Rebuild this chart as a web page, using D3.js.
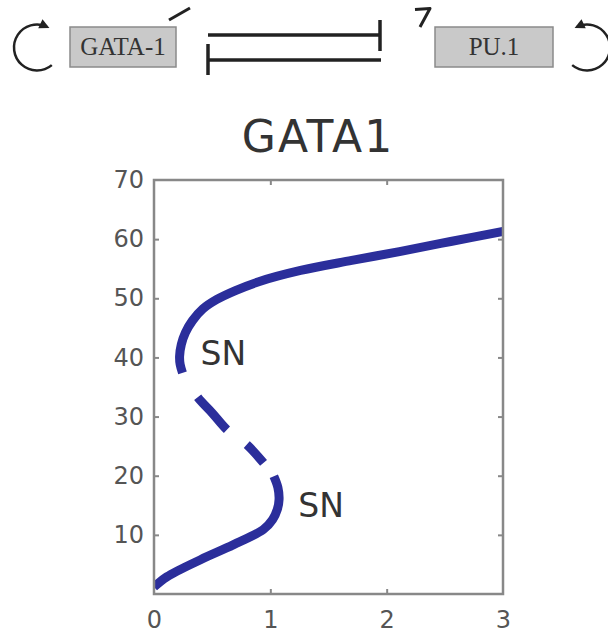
<!DOCTYPE html>
<html>
<head>
<meta charset="utf-8">
<script src="https://cdn.jsdelivr.net/npm/d3@7"></script>
<style>
  body { margin: 0; background: #fff; }
  svg { display: block; }
  .tick-label { font-family: "DejaVu Sans", sans-serif; font-size: 24px; fill: #555; }
  .sn { font-family: "DejaVu Sans", sans-serif; font-size: 33px; fill: #333; }
</style>
</head>
<body>
<div id="plot"></div>
<script>
// bifurcation branches of GATA1 (x = parameter, y = GATA1 level)
const upperX = [0.245, 0.225, 0.22, 0.235, 0.27, 0.33, 0.42, 0.54, 0.70, 0.90, 1.26, 1.70, 2.11, 2.55, 3.0]
const upperY = [37.4, 38.8, 40.2, 42.2, 44.2, 46.2, 48.2, 49.8, 51.3, 52.8, 54.7, 56.4, 57.9, 59.6, 61.3]
const unstableX = [0.245, 0.37, 0.50, 0.625, 0.71, 0.80, 0.94, 1.03]
const unstableY = [37.4, 33.4, 30.6, 27.8, 26.5, 25.2, 22.2, 19.9]
const lowerX = [0.0, 0.11, 0.40, 0.68, 0.94, 1.02, 1.06, 1.075, 1.065, 1.03]
const lowerY = [1.2, 2.9, 5.8, 8.3, 10.9, 12.6, 14.3, 16.0, 18.0, 19.9]
const xTicks = [0, 1, 2, 3]
const yTicks = [10, 20, 30, 40, 50, 60, 70]
const labels = ['SN', 'SN']
const labelX = [0.40, 1.24]
const labelY = [38.7, 13.0]

const W = 608, H = 635
const margin = ({top: 180, right: 105, bottom: 41, left: 154})
const blue = '#2b2e9b'
const ink = '#222'
const deg = Math.PI / 180

const svg = d3.select('#plot').append('svg')
  .attr('width', W)
  .attr('height', H)

//TOP DIAGRAM
const diag = svg.append('g')
// self-activation loops (d3 angles: 0 = up, clockwise)
const loop = (cx, cy, r, a0, a1) => {
  const arc = d3.arc()
    .innerRadius(r).outerRadius(r)
    .startAngle(a0 * deg).endAngle(a1 * deg)
  diag.append('path')
    .attr('d', arc())
    .attr('transform', `translate(${cx},${cy})`)
    .attr('fill', 'none')
    .attr('stroke', ink)
    .attr('stroke-width', 2.5)
  const a = a1 * deg
  const ex = cx + r * Math.sin(a), ey = cy - r * Math.cos(a)
  const s = a1 > a0 ? 1 : -1
  const dir = Math.atan2(s * Math.sin(a), s * Math.cos(a)) / deg
  diag.append('path')
    .attr('d', 'M3,0 L-7,-5 L-7,5 Z')
    .attr('fill', ink)
    .attr('transform', `translate(${ex},${ey}) rotate(${dir})`)
}
loop(37, 47.5, 23, 140, 385)
loop(587, 47.5, 23, 220, -25)

// gene boxes
const box = (x, y, w, h, txt) => {
  diag.append('rect')
    .attr('x', x).attr('y', y).attr('width', w).attr('height', h)
    .attr('fill', '#c9c9c9').attr('stroke', '#8a8a8a').attr('stroke-width', 1.5)
  diag.append('text')
    .attr('x', x + w / 2).attr('y', y + h / 2 + 8)
    .attr('text-anchor', 'middle')
    .style('font-family', '"Liberation Serif", serif')
    .style('font-size', '25px')
    .style('fill', '#333')
    .text(txt)
}
box(70, 27, 106, 40, 'GATA-1')
box(435, 27, 118, 40, 'PU.1')

// mutual inhibition
const bar = (x1, x2, y, xb, y1, y2) => {
  diag.append('line').attr('x1', x1).attr('x2', x2).attr('y1', y).attr('y2', y)
    .attr('stroke', ink).attr('stroke-width', 3.5)
  diag.append('line').attr('x1', xb).attr('x2', xb).attr('y1', y1).attr('y2', y2)
    .attr('stroke', ink).attr('stroke-width', 3.5)
}
bar(208, 381, 35, 380, 20, 51)
bar(207, 381, 60, 208, 44, 75)

// cropped fragments
diag.append('path').attr('d', 'M169,20 L190,8')
  .attr('stroke', ink).attr('stroke-width', 3).attr('fill', 'none')
diag.append('path').attr('d', 'M415,9.5 L430,8.5 L420,27')
  .attr('stroke', ink).attr('stroke-width', 3).attr('fill', 'none')
  .attr('stroke-linejoin', 'round')

//CHART
svg.append('text')
  .attr('x', 318).attr('y', 152)
  .attr('text-anchor', 'middle')
  .style('font-family', '"DejaVu Sans", sans-serif')
  .style('font-size', '44px')
  .style('letter-spacing', '2px')
  .style('fill', '#333')
  .text('GATA1')

const xScale = d3.scaleLinear().domain([0, 3]).range([margin.left, W - margin.right])
const yScale = d3.scaleLinear().domain([0, 70]).range([H - margin.bottom, margin.top])

svg.append('clipPath').attr('id', 'clip')
  .append('rect')
  .attr('x', xScale(0)).attr('y', yScale(70))
  .attr('width', xScale(3) - xScale(0)).attr('height', yScale(0) - yScale(70))

const line = d3.line()
  .x(d => xScale(d[0]))
  .y(d => yScale(d[1]))
  .curve(d3.curveCatmullRom.alpha(0.5))

const g = svg.append('g').attr('clip-path', 'url(#clip)')
const zip = (a, b) => a.map((v, i) => [v, b[i]])

g.append('path').datum(zip(upperX, upperY))
  .attr('d', line).attr('fill', 'none').attr('stroke', blue).attr('stroke-width', 9)
g.append('path').datum(zip(lowerX, lowerY))
  .attr('d', line).attr('fill', 'none').attr('stroke', blue).attr('stroke-width', 9)
const dash = g.append('path').datum(zip(unstableX, unstableY))
  .attr('d', line).attr('fill', 'none').attr('stroke', blue).attr('stroke-width', 9)
const L = dash.node().getTotalLength()
const pat = [0, 29, 44, 25, 25, 17]
const k = L / d3.sum(pat)
dash.attr('stroke-dasharray', pat.map(v => v * k).join(','))

// frame
const frame = svg.append('g').attr('stroke', '#888').attr('stroke-width', 2.5).attr('fill', 'none')
frame.append('rect')
  .attr('x', xScale(0)).attr('y', yScale(70))
  .attr('width', xScale(3) - xScale(0)).attr('height', yScale(0) - yScale(70))

// axes with inner ticks
const xaxis = svg.append('g')
  .attr('transform', `translate(0,${yScale(0)})`)
  .call(d3.axisBottom(xScale).tickValues(xTicks).tickSize(-5).tickPadding(17).tickFormat(d3.format('d')))
const xaxisTop = svg.append('g')
  .attr('transform', `translate(0,${yScale(70)})`)
  .call(d3.axisTop(xScale).tickValues(xTicks.slice(1, -1)).tickSize(-5).tickFormat(''))
const yaxis = svg.append('g')
  .attr('transform', `translate(${xScale(0)},0)`)
  .call(d3.axisLeft(yScale).tickValues(yTicks).tickSize(-5).tickPadding(10).tickFormat(d3.format('d')))
const yaxisRight = svg.append('g')
  .attr('transform', `translate(${xScale(3)},0)`)
  .call(d3.axisRight(yScale).tickValues(yTicks.slice(0, -1)).tickSize(-5).tickFormat(''))

;[xaxis, xaxisTop, yaxis, yaxisRight].forEach(a => {
  a.call(s => s.select('.domain').remove())
    .call(s => s.selectAll('.tick line').attr('stroke', '#888').attr('stroke-width', 2))
    .call(s => s.selectAll('.tick text').attr('class', 'tick-label').attr('fill', null))
})
xaxis.selectAll('.tick line').filter(d => d === 0 || d === 3).remove()
yaxis.selectAll('.tick line').filter(d => d === 70).remove()

// saddle-node labels
svg.selectAll('.sn')
  .data(labels)
  .join('text')
  .attr('class', 'sn')
  .attr('x', (d, i) => xScale(labelX[i]))
  .attr('y', (d, i) => yScale(labelY[i]))
  .text(d => d)
</script>
</body>
</html>
